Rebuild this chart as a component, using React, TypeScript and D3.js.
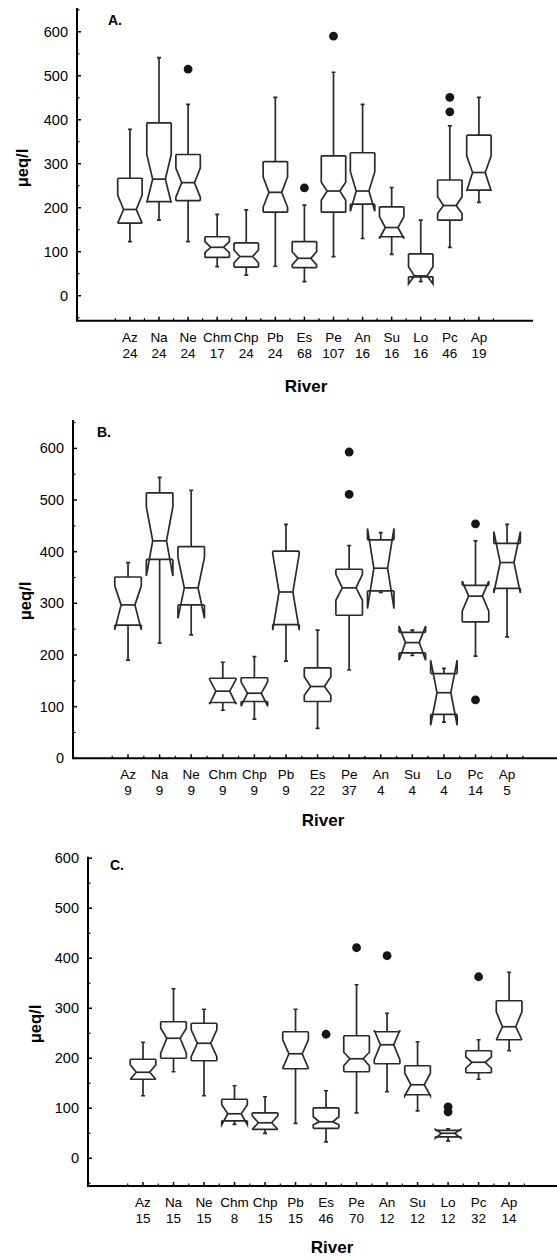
import React from "react";
import * as d3 from "d3";

// rivers along the x axis, same in every panel
const rivers = ["Az", "Na", "Ne", "Chm", "Chp", "Pb", "Es", "Pe", "An", "Su", "Lo", "Pc", "Ap"];
const yTickValues = [0, 100, 200, 300, 400, 500, 600];

// panel A
const countsA = [24, 24, 24, 17, 24, 24, 68, 107, 16, 16, 16, 46, 19];
const lowA = [123, 172, 123, 66, 47, 67, 32, 89, 130, 94, 32, 110, 212];
const q1A = [165, 214, 216, 87, 65, 190, 64, 190, 208, 134, 43, 172, 240];
const notchLoA = [165, 212, 224, 98, 75, 201, 70, 217, 192, 130, 27, 187, 238];
const medA = [196, 265, 257, 110, 89, 235, 85, 238, 238, 155, 45, 205, 280];
const notchHiA = [229, 321, 290, 123, 104, 270, 100, 258, 282, 180, 66, 225, 318];
const q3A = [267, 393, 321, 134, 120, 305, 123, 318, 325, 202, 95, 263, 365];
const highA = [378, 541, 435, 185, 195, 451, 206, 508, 435, 246, 172, 386, 451];
const outA = [[], [], [515], [], [], [], [245], [590], [], [], [], [451, 418], []];

// panel B
const countsB = [9, 9, 9, 9, 9, 9, 22, 37, 4, 4, 4, 14, 5];
const lowB = [190, 223, 239, 93, 76, 188, 58, 171, 321, 199, 70, 198, 235];
const q1B = [258, 385, 297, 108, 110, 259, 110, 277, 324, 204, 85, 264, 329];
const notchLoB = [249, 353, 271, 105, 101, 248, 122, 306, 290, 190, 64, 285, 320];
const medB = [297, 421, 330, 130, 126, 322, 139, 330, 368, 224, 127, 314, 379];
const notchHiB = [334, 487, 389, 153, 148, 396, 158, 356, 445, 256, 190, 343, 439];
const q3B = [351, 514, 410, 155, 156, 401, 175, 366, 423, 244, 164, 335, 416];
const highB = [379, 544, 519, 186, 197, 453, 248, 412, 437, 248, 174, 421, 453];
const outB = [[], [], [], [], [], [], [], [593, 511], [], [], [], [454, 113], []];

// panel C
const countsC = [15, 15, 15, 8, 15, 15, 46, 70, 12, 12, 12, 32, 14];
const lowC = [125, 173, 125, 68, 50, 70, 33, 91, 133, 95, 35, 158, 215];
const q1C = [158, 200, 195, 75, 58, 179, 60, 173, 189, 127, 43, 171, 237];
const notchLoC = [158, 210, 203, 67, 58, 180, 67, 185, 197, 125, 40, 180, 237];
const medC = [172, 240, 230, 89, 71, 209, 73, 199, 227, 147, 50, 192, 263];
const notchHiC = [187, 260, 257, 107, 85, 237, 83, 212, 256, 170, 58, 203, 293];
const q3C = [198, 273, 270, 118, 91, 253, 101, 245, 253, 185, 56, 215, 315];
const highC = [232, 339, 298, 145, 123, 298, 135, 347, 290, 233, 59, 237, 372];
const outC = [[], [], [], [], [], [], [248], [421], [405], [], [103, 93], [363], []];

const FONT = "'Liberation Sans', Arial, Helvetica, sans-serif";
const INK = "#2a2a2a";

const panels = [
  {
    letter: "A.", counts: countsA, low: lowA, q1: q1A, nLo: notchLoA, med: medA, nHi: notchHiA, q3: q3A, high: highA, out: outA,
    left: 77, right: 533, top: 8, bottom: 320.7, yDomain: [-56.8, 654], xDomain: [-0.82, 14.86],
    letterPos: [108, 25], titlePos: [22, 168], riverPos: [306, 392],
  },
  {
    letter: "B.", counts: countsB, low: lowB, q1: q1B, nLo: notchLoB, med: medB, nHi: notchHiB, q3: q3B, high: highB, out: outB,
    left: 73, right: 557, top: 420, bottom: 758.3, yDomain: [0, 655], xDomain: [-0.742, 14.58],
    letterPos: [97, 437], titlePos: [25, 601], riverPos: [323, 826],
  },
  {
    letter: "C.", counts: countsC, low: lowC, q1: q1C, nLo: notchLoC, med: medC, nHi: notchHiC, q3: q3C, high: highC, out: outC,
    left: 88, right: 557, top: 856.7, bottom: 1186, yDomain: [-55.4, 603], xDomain: [-0.803, 14.57],
    letterPos: [110, 870], titlePos: [35, 1024], riverPos: [332, 1253],
  },
];

function Panel({ p }) {
  const x = d3.scaleLinear().domain(p.xDomain).range([p.left, p.right]);
  const y = d3.scaleLinear().domain(p.yDomain).range([p.bottom, p.top]);
  const step = x(2) - x(1);
  const w = step * 0.42;
  const nw = w * 0.52;

  const yMinor = d3.range(-50, 651, 50).filter(v => v >= p.yDomain[0] && v <= p.yDomain[1] && v % 100 !== 0);
  const xMinor = d3.range(0.5, 14, 1);

  return (
    <g>
      {/* axes */}
      <line x1={p.left} x2={p.left} y1={p.top} y2={p.bottom} stroke="#000" strokeWidth={2} />
      <line x1={p.left - 1} x2={p.right} y1={p.bottom} y2={p.bottom} stroke="#000" strokeWidth={2} />
      {yTickValues.map(v => (
        <g key={"yt" + v}>
          <line x1={p.left} x2={p.left + 4} y1={y(v)} y2={y(v)} stroke="#000" strokeWidth={1.5} />
          <text x={p.left - 9} y={y(v)} dy="0.35em" textAnchor="end" fontSize={14.5} fontFamily={FONT}>{v}</text>
        </g>
      ))}
      {yMinor.map(v => (
        <line key={"ym" + v} x1={p.left} x2={p.left + 2.5} y1={y(v)} y2={y(v)} stroke="#000" strokeWidth={1.2} />
      ))}
      {rivers.map((r, i) => (
        <g key={"xt" + r}>
          <line x1={x(i + 1)} x2={x(i + 1)} y1={p.bottom} y2={p.bottom - 4} stroke="#000" strokeWidth={1.5} />
          <text x={x(i + 1)} y={p.bottom + 21} textAnchor="middle" fontSize={13.5} fontFamily={FONT}>{r}</text>
          <text x={x(i + 1)} y={p.bottom + 37} textAnchor="middle" fontSize={13.5} fontFamily={FONT}>{p.counts[i]}</text>
        </g>
      ))}
      {xMinor.map(v => (
        <line key={"xm" + v} x1={x(v)} x2={x(v)} y1={p.bottom} y2={p.bottom - 2.5} stroke="#000" strokeWidth={1.2} />
      ))}

      {/* notched boxes */}
      {rivers.map((r, i) => {
        const cx = x(i + 1);
        const side = s =>
          `M${cx + s * w},${y(p.q3[i])}V${y(p.nHi[i])}L${cx + s * nw},${y(p.med[i])}L${cx + s * w},${y(p.nLo[i])}V${y(p.q1[i])}`;
        return (
          <g key={"box" + r} fill="none" stroke={INK} strokeWidth={1.7}>
            <path d={`M${cx},${y(p.q3[i])}V${y(p.high[i])}M${cx},${y(p.q1[i])}V${y(p.low[i])}`} />
            <path d={`M${cx - 2},${y(p.high[i])}H${cx + 2}M${cx - 2},${y(p.low[i])}H${cx + 2}`} />
            <path d={side(-1) + side(1)} strokeLinejoin="miter" />
            <path d={`M${cx - w},${y(p.q3[i])}H${cx + w}M${cx - w},${y(p.q1[i])}H${cx + w}`} />
            <path d={`M${cx - nw},${y(p.med[i])}H${cx + nw}`} />
            {p.out[i].map((v, k) => (
              <circle key={k} cx={cx} cy={y(v)} r={4.4} fill="#161616" stroke="none" />
            ))}
          </g>
        );
      })}

      {/* labels */}
      <text x={p.letterPos[0]} y={p.letterPos[1]} fontSize={14} fontWeight="bold" fontFamily={FONT}>{p.letter}</text>
      <text transform={`translate(${p.titlePos[0]},${p.titlePos[1]}) rotate(-90)`} dy="0.35em" textAnchor="middle"
        fontSize={16.5} fontWeight="bold" fontFamily={FONT}>μeq/l</text>
      <text x={p.riverPos[0]} y={p.riverPos[1]} textAnchor="middle" fontSize={17} fontWeight="bold" fontFamily={FONT}>River</text>
    </g>
  );
}

export default function App() {
  return (
    <svg width={557} height={1260} style={{ position: "absolute", left: 0, top: 0, background: "#fff" }}>
      {panels.map(p => <Panel key={p.letter} p={p} />)}
    </svg>
  );
}
